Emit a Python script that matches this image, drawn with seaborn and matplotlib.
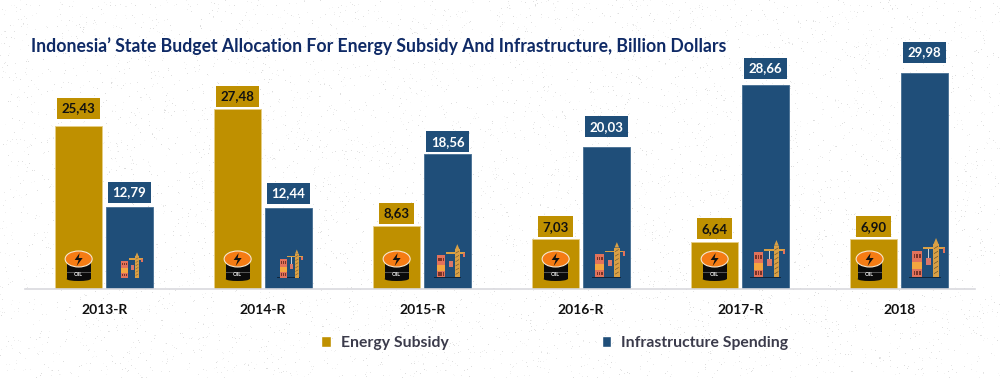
import numpy as np
import pandas as pd
import seaborn as sns
import matplotlib.pyplot as plt
from matplotlib.patches import Rectangle, Ellipse, Polygon
from matplotlib.transforms import Affine2D

years = ['2013-R', '2014-R', '2015-R', '2016-R', '2017-R', '2018']
# printed labels
energy_labels = ['25,43', '27,48', '8,63', '7,03', '6,64', '6,90']
infra_labels = ['12,79', '12,44', '18,56', '20,03', '28,66', '29,98']
# bar heights as drawn in the picture (it is not quite to scale with its labels)
energy_heights = [22.96, 25.35, 8.87, 7.0, 6.66, 7.0]
infra_heights = [11.55, 11.41, 18.97, 19.96, 28.73, 30.42]

# gap in pixels between bar top and its label box, differs per bar in the original
energy_gaps = [7, 2, 2, 2, 2.5, 2]
infra_gaps = [4, 4, 2, 10, 6, 10]
# the icons grow a bit from left to right
icon_scale = [0.65, 0.72, 0.85, 0.9, 0.95, 1.0]
barrel_shift = [0, 0, 0, 0, 0, -4]

GOLD = '#BF9000'
BLUE = '#1F4E79'

sns.set_theme(style='white')
plt.rcParams['font.family'] = ['Lato', 'DejaVu Sans']

df = pd.DataFrame({
    'year': years * 2,
    'height': energy_heights + infra_heights,
    'series': ['Energy Subsidy'] * 6 + ['Infrastructure Spending'] * 6,
})

fig = plt.figure(figsize=(10, 3.78), dpi=100)

# faint speckled paper texture behind the chart
rng = np.random.default_rng(3)
paper = np.ones((378, 1000))
dots = rng.random((378, 1000)) < 0.018
paper[dots] = rng.uniform(0.86, 0.97, dots.sum())
fig.figimage(paper, cmap='gray', vmin=0, vmax=1, zorder=-5)

ax = fig.add_axes([0.025, 1 - 289 / 378, 0.95, 289 / 378])
ax.patch.set_alpha(0)
sns.barplot(data=df, x='year', y='height', hue='series', ax=ax,
            palette=[GOLD, BLUE], width=0.64, gap=0.0875, saturation=1)

ax.set_xlim(-0.4975, 5.4775)
ax.set_ylim(0, 289 / 7.1)
ax.set_xlabel('')
ax.set_ylabel('')
ax.set_yticks([])
ax.tick_params(axis='x', length=0, pad=11)
for t in ax.get_xticklabels():
    t.set_fontsize(10)
    t.set_fontweight('bold')
    t.set_color('#111111')
sns.despine(ax=ax, left=True)
ax.spines['bottom'].set_color('#d9d9de')
ax.spines['bottom'].set_linewidth(1.2)

for bar in ax.containers[0]:
    bar.set_edgecolor('#E6CE85')
    bar.set_linewidth(0.7)
for bar in ax.containers[1]:
    bar.set_edgecolor('#4F7597')
    bar.set_linewidth(0.7)


def value_labels(container, labels, gaps, fill, text_color):
    for bar, label, gap in zip(container, labels, gaps):
        ax.annotate(label, (bar.get_x() + bar.get_width() / 2, bar.get_height()),
                    xytext=(0, gap + 10.5), textcoords='offset pixels',
                    ha='center', va='center', fontsize=9.5, fontweight='bold',
                    color=text_color,
                    bbox=dict(boxstyle='square,pad=0.33', fc=fill, ec='none'))


value_labels(ax.containers[0], energy_labels, energy_gaps, GOLD, '#111111')
value_labels(ax.containers[1], infra_labels, infra_gaps, BLUE, 'white')


def add_parts(items, tr):
    for p in items:
        p.set_transform(tr)
        p.set_clip_on(False)
        fig.add_artist(p)


def barrel(cx, base):
    # oil barrel with the orange lightning lid, sizes in pixels
    tr = Affine2D().translate(cx, base)
    add_parts([
        Rectangle((-12, 10), 24, 17, fc='#0b0b0b', ec='none'),
        Ellipse((0, 10), 24, 4, fc='#0b0b0b', ec='none'),
        Rectangle((-12, 16), 24, 0.7, fc='#555555', ec='none'),
        Ellipse((0, 30), 27, 16, fc='#F57C14', ec='#f6e7cf', lw=0.8),
        Polygon([(1, 36), (-4, 29), (0, 29), (-2, 23), (4, 31), (0, 31)], fc='#111111', ec='none'),
    ], tr)
    fig.text(0, 14, 'OIL', transform=tr, color='#eeeeee', fontsize=4,
             fontweight='bold', ha='center', va='center')


def site(cx, base, s=1.0):
    # small building next to a tower crane, sizes in pixels
    tr = Affine2D().translate(0, -10).scale(s).translate(cx, base + 10)
    parts = [
        Rectangle((-16, 11), 32, 1.2, fc='#10263c', ec='none'),
        Rectangle((-12.5, 12), 10, 26, fc='#E2725B', ec='none'),
        Rectangle((-12.5, 20), 10, 7, fc='#F4A640', ec='none'),
        Rectangle((1.5, 24), 5, 7, fc='#D9776A', ec='none'),
        Rectangle((3.7, 31), 0.6, 10, fc='#cfcfcf', ec='none'),
        Rectangle((8.5, 12), 6, 33, fc='#D9A045', ec='none'),
        Rectangle((-1.5, 40), 22, 1.6, fc='#D9A045', ec='none'),
        Rectangle((18, 36), 2, 5, fc='#E2725B', ec='none'),
        Polygon([(9, 45), (14, 45), (11.5, 51)], fc='#D9A045', ec='none'),
    ]
    # windows and tower lattice
    for col in (-11, -8.3, -5.6):
        parts.append(Rectangle((col, 31), 1.6, 4, fc='#7a3328', ec='none'))
        parts.append(Rectangle((col, 14), 1.6, 4, fc='#7a3328', ec='none'))
    for rung in (15, 20, 25, 30, 35, 40):
        parts.append(Polygon([(9.5, rung), (13.5, rung + 2.5), (13.5, rung + 3.2), (9.5, rung + 0.7)],
                             fc='#5b4a2c', ec='none'))
    add_parts(parts, tr)


for i in range(6):
    g = ax.containers[0][i]
    b = ax.containers[1][i]
    gx = g.get_x() + g.get_width() / 2
    bx = b.get_x() + b.get_width() / 2
    barrel(ax.transData.transform((gx, 0))[0] + barrel_shift[i], 378 - 289)
    site(ax.transData.transform((bx, 0))[0], 378 - 289, icon_scale[i])

fig.text(0.031, 1 - 46 / 378, 'Indonesia\u2019 State Budget Allocation For Energy Subsidy And Infrastructure, Billion Dollars',
         fontsize=12.67, fontweight='bold', color='#0F2A66', ha='left', va='center')

handles, labels = ax.get_legend_handles_labels()
leg = ax.legend(handles, labels, ncol=2, frameon=False, loc='center left',
                bbox_to_anchor=(0.307, 1 - 343 / 378), bbox_transform=fig.transFigure,
                handlelength=0.63, handleheight=0.63, handletextpad=0.62,
                columnspacing=9.75, prop={'size': 11.3, 'weight': 'bold'})
for t in leg.get_texts():
    t.set_color('#3B3B4B')

fig.savefig('out.png', dpi=100)
